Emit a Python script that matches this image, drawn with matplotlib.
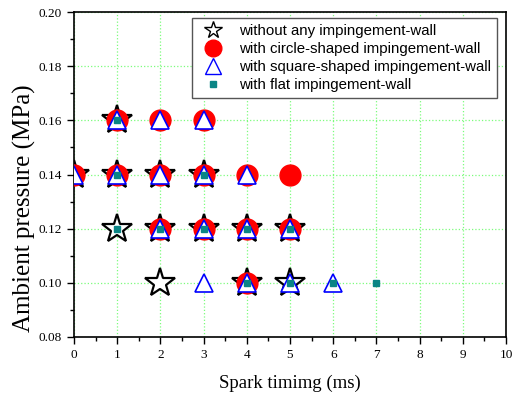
import numpy as np
import matplotlib
matplotlib.use('Agg')
import matplotlib.pyplot as plt
from matplotlib.lines import Line2D
from matplotlib.ticker import MultipleLocator

# spark timing (ms) / ambient pressure (MPa) for each case
star_x = [1, 0, 1, 2, 3, 1, 2, 3, 4, 5, 2, 4, 5]
star_y = [0.16, 0.14, 0.14, 0.14, 0.14, 0.12, 0.12, 0.12, 0.12, 0.12, 0.10, 0.10, 0.10]

circ_x = [1, 2, 3, 0, 1, 2, 3, 4, 5, 2, 3, 4, 5, 4]
circ_y = [0.16, 0.16, 0.16, 0.14, 0.14, 0.14, 0.14, 0.14, 0.14, 0.12, 0.12, 0.12, 0.12, 0.10]

tri_x = [1, 2, 3, 0, 1, 2, 3, 4, 2, 3, 4, 5, 3, 4, 5, 6]
tri_y = [0.16, 0.16, 0.16, 0.14, 0.14, 0.14, 0.14, 0.14, 0.12, 0.12, 0.12, 0.12, 0.10, 0.10, 0.10, 0.10]

sq_x = [1, 1, 3, 1, 2, 3, 4, 5, 4, 5, 6, 7]
sq_y = [0.16, 0.14, 0.14, 0.12, 0.12, 0.12, 0.12, 0.12, 0.10, 0.10, 0.10, 0.10]

labels = ["without any impingement-wall",
          "with circle-shaped impingement-wall",
          "with square-shaped impingement-wall",
          "with flat impingement-wall"]

teal = '#0a8585'

fig = plt.figure(figsize=(5.16, 3.94), dpi=100)
ax = fig.add_axes([0.1434, 0.1447, 0.8372, 0.8248])

ax.plot(star_x, star_y, ls='none', marker='*', ms=22, mfc='white', mec='black', mew=1.6, zorder=3)
ax.plot(circ_x, circ_y, ls='none', marker='o', ms=15, mfc='red', mec='red', zorder=4)
ax.plot(tri_x, tri_y, ls='none', marker='^', ms=13, mfc='white', mec='blue', mew=1.2, zorder=5)
ax.plot(sq_x, sq_y, ls='none', marker='s', ms=5, mfc=teal, mec=teal, zorder=6)

ax.set_xlim(0, 10)
ax.set_ylim(0.08, 0.20)
ax.xaxis.set_major_locator(MultipleLocator(1))
ax.xaxis.set_minor_locator(MultipleLocator(0.5))
ax.yaxis.set_major_locator(MultipleLocator(0.02))
ax.yaxis.set_minor_locator(MultipleLocator(0.01))
ax.yaxis.set_major_formatter(matplotlib.ticker.FormatStrFormatter('%.2f'))

ax.grid(True, which='major', color='#7CFC7C', ls=':', lw=0.9, zorder=0)
ax.set_axisbelow(True)

ax.tick_params(which='major', direction='out', length=5, width=1, labelsize=9.5)
ax.tick_params(which='minor', direction='out', length=3, width=1)
for lab in ax.get_xticklabels() + ax.get_yticklabels():
    lab.set_family('Liberation Serif')
for sp in ax.spines.values():
    sp.set_linewidth(1.2)

ax.set_xlabel("Spark timimg (ms)", family='Liberation Serif', fontsize=13.5, labelpad=10)
ax.set_ylabel("Ambient pressure (MPa)", family='Liberation Serif', fontsize=18)
ax.yaxis.set_label_coords(-0.088, 0.397)

handles = [
    Line2D([], [], ls='none', marker='*', ms=13, mfc='white', mec='black', mew=1.0),
    Line2D([], [], ls='none', marker='o', ms=12, mfc='red', mec='red'),
    Line2D([], [], ls='none', marker='^', ms=12, mfc='white', mec='blue', mew=1.0),
    Line2D([], [], ls='none', marker='s', ms=5, mfc=teal, mec=teal),
]
leg = ax.legend(handles, labels, loc='upper right', bbox_to_anchor=(0.979, 0.982),
                borderaxespad=0,
                prop={'family': 'Liberation Sans', 'size': 10.8}, fancybox=False,
                edgecolor='#555555', framealpha=1, labelspacing=0.28,
                handletextpad=0.7, borderpad=0.4, handlelength=2.0)
leg.get_frame().set_linewidth(1.0)

fig.savefig('out.png', dpi=100)
